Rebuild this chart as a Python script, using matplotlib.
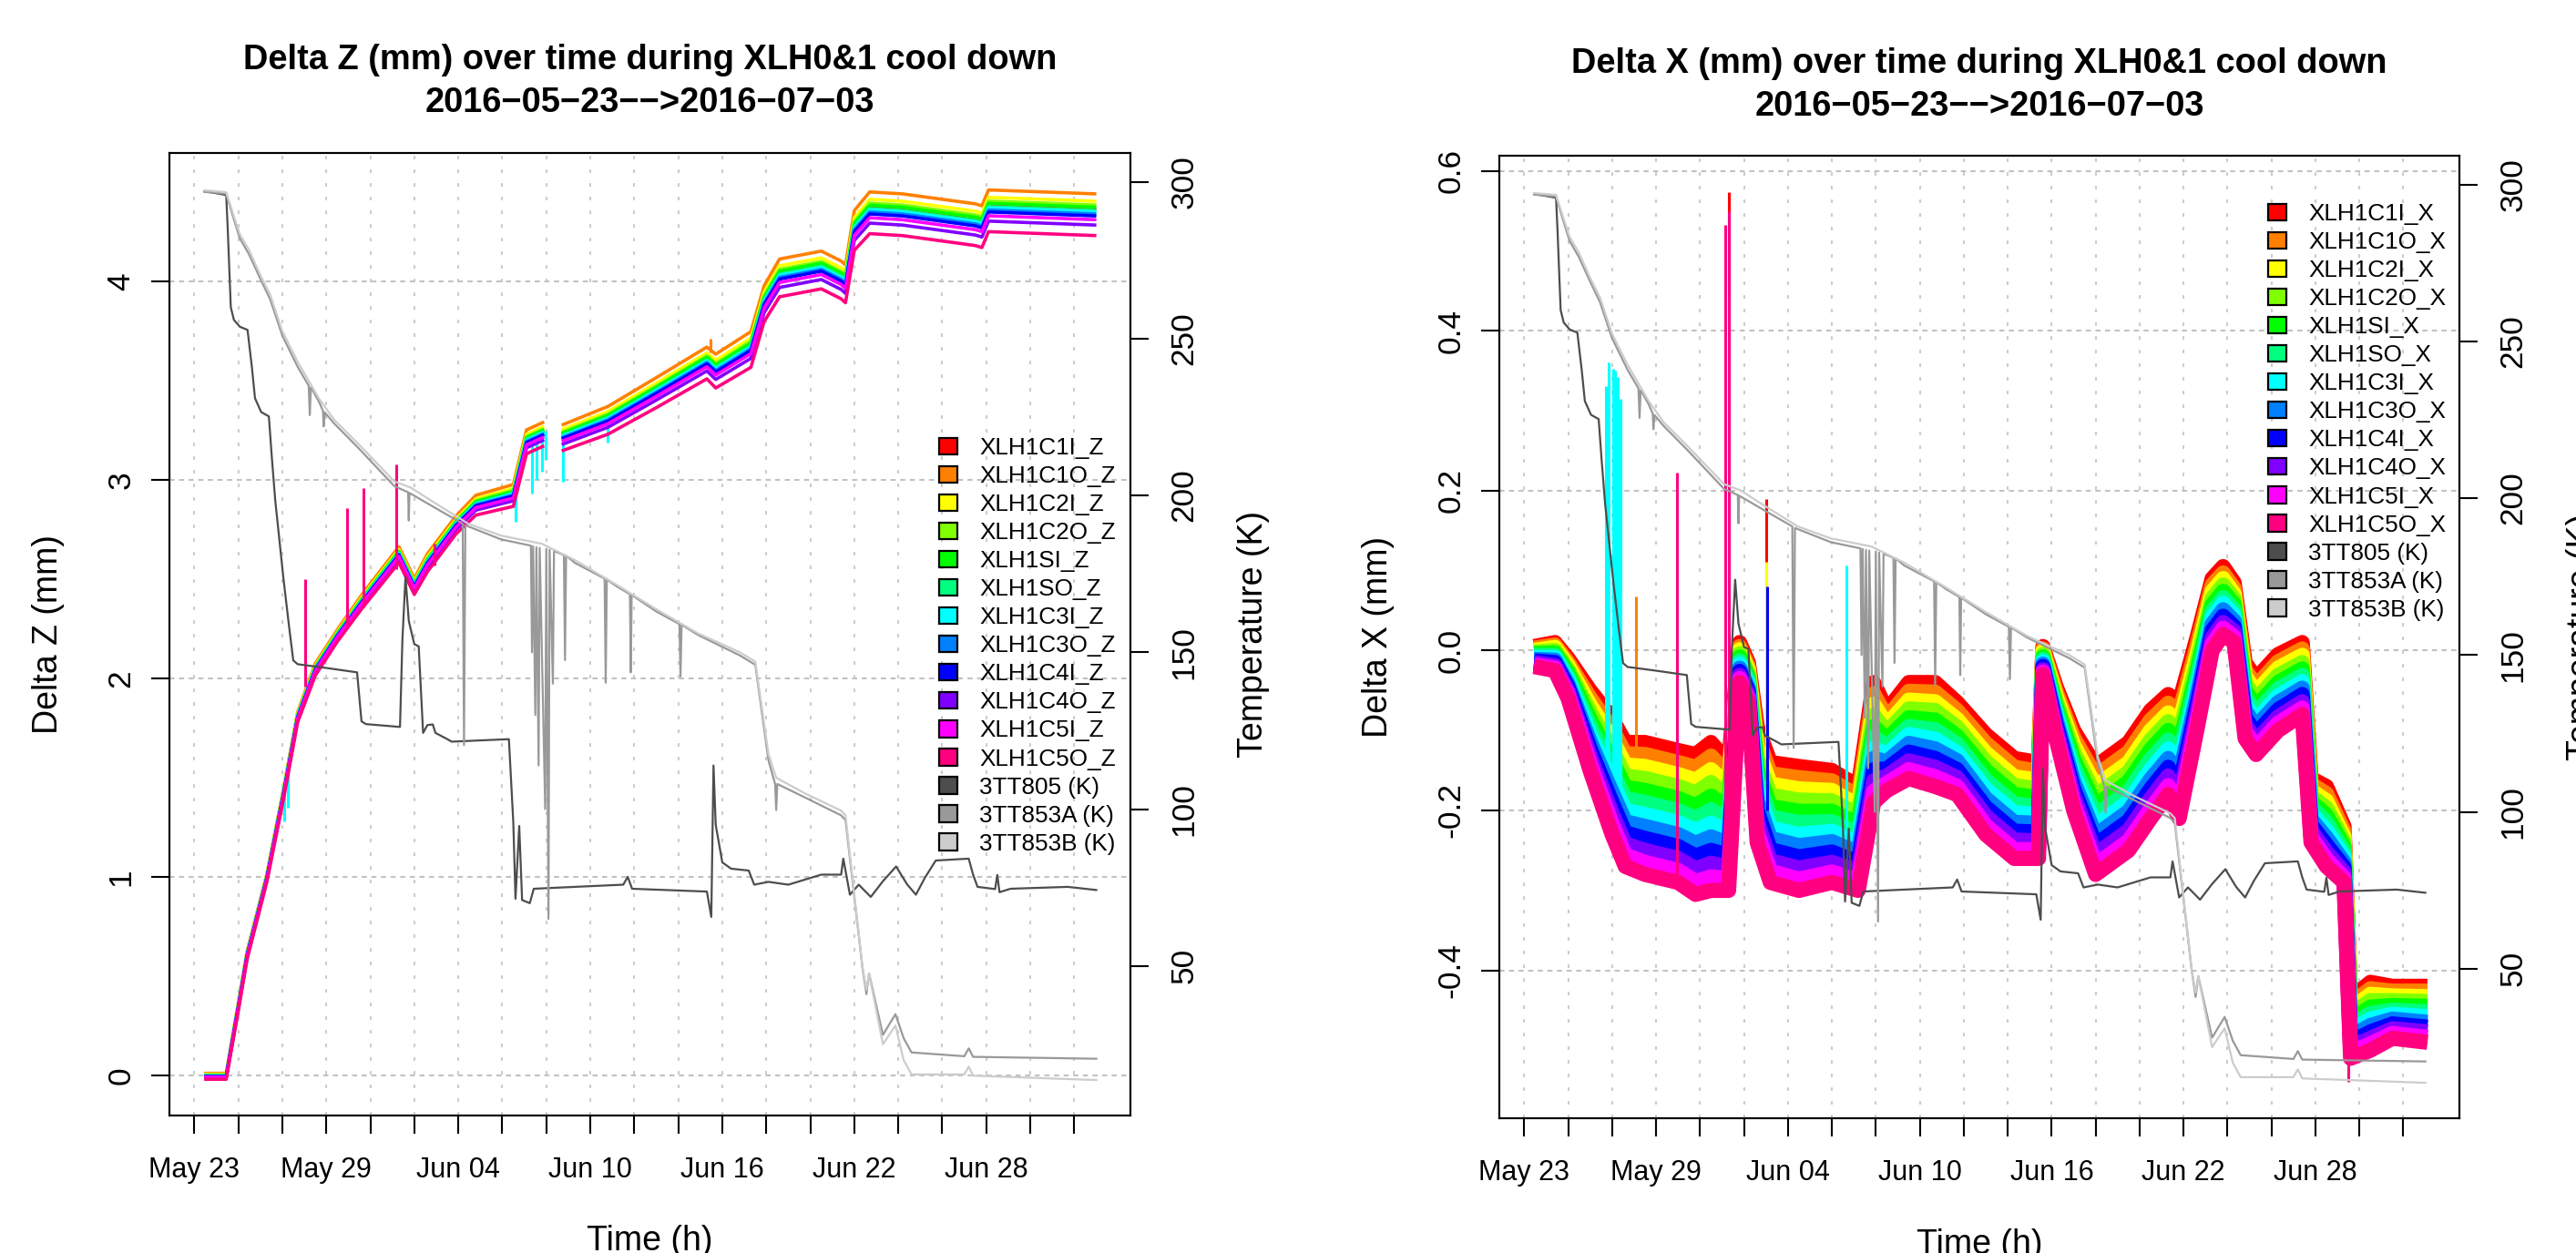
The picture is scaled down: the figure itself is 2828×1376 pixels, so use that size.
import matplotlib
matplotlib.use('Agg')
import matplotlib.pyplot as plt
from matplotlib.patches import Patch

plt.rcParams['font.family'] = ['Liberation Sans', 'DejaVu Sans']
plt.rcParams['lines.scale_dashes'] = False

nan = float('nan')

# time axis in days since 2016-05-23 00:00
tick_days = list(range(0, 41, 2))
label_days = [0, 6, 12, 18, 24, 30, 36]
label_text = ['May 23', 'May 29', 'Jun 04', 'Jun 10', 'Jun 16', 'Jun 22', 'Jun 28']

sensor_cols = ['#FF0000', '#FF8000', '#FFFF00', '#80FF00', '#00FF00', '#00FF80',
               '#00FFFF', '#0080FF', '#0000FF', '#8000FF', '#FF00FF', '#FF0080']
z_names = ['XLH1C1I_Z', 'XLH1C1O_Z', 'XLH1C2I_Z', 'XLH1C2O_Z', 'XLH1SI_Z', 'XLH1SO_Z',
           'XLH1C3I_Z', 'XLH1C3O_Z', 'XLH1C4I_Z', 'XLH1C4O_Z', 'XLH1C5I_Z', 'XLH1C5O_Z']
x_names = ['XLH1C1I_X', 'XLH1C1O_X', 'XLH1C2I_X', 'XLH1C2O_X', 'XLH1SI_X', 'XLH1SO_X',
           'XLH1C3I_X', 'XLH1C3O_X', 'XLH1C4I_X', 'XLH1C4O_X', 'XLH1C5I_X', 'XLH1C5O_X']
temp_names = ['3TT805 (K)', '3TT853A (K)', '3TT853B (K)']
temp_cols = ['#4D4D4D', '#999999', '#CCCCCC']

# ---- Delta Z (mm) ----
z_t = [0.45, 1.45, 2.0, 2.4, 3.3, 4.05, 4.7, 5.5, 6.5, 7.6, 9.3, 10.0, 10.6, 11.9, 12.8,
       14.5, 15.1, 15.9, 16.3, 16.7, 18.8, 21.0, 23.3, 23.7, 25.3, 25.9, 26.6, 28.5, 29.4,
       29.6, 30.0, 30.7, 32.2, 35.5, 35.8, 36.1, 41.0]
z_c1i = [.002, .002, .352, .612, 1.002, 1.423, 1.813, 2.054, 2.224, 2.394, 2.635, 2.475, 2.595, 2.785, 2.886,
         2.937, 3.207, 3.247, nan, 3.228, 3.318, 3.459, 3.610, 3.570, 3.681, 3.911, 4.041, 4.081, 4.031,
         4.011, 4.282, 4.373, 4.363, 4.313, 4.303, 4.383, 4.363]
z_c1o = [.013, .013, .367, .627, 1.017, 1.442, 1.832, 2.076, 2.246, 2.420, 2.664, 2.504, 2.629, 2.819, 2.923,
         2.977, 3.252, 3.292, nan, 3.276, 3.370, 3.515, 3.669, 3.633, 3.747, 3.977, 4.112, 4.152, 4.102,
         4.082, 4.356, 4.450, 4.440, 4.390, 4.380, 4.460, 4.440]
z_c2i = [.008, .008, .360, .620, 1.010, 1.433, 1.823, 2.065, 2.235, 2.408, 2.650, 2.490, 2.613, 2.803, 2.905,
         2.958, 3.230, 3.270, nan, 3.253, 3.345, 3.488, 3.640, 3.603, 3.715, 3.945, 4.078, 4.118, 4.068,
         4.048, 4.320, 4.413, 4.403, 4.353, 4.343, 4.423, 4.403]
z_c2o = [.005, .005, .356, .616, 1.006, 1.428, 1.818, 2.060, 2.230, 2.401, 2.643, 2.483, 2.604, 2.794, 2.896,
         2.948, 3.219, 3.259, nan, 3.241, 3.332, 3.474, 3.626, 3.587, 3.699, 3.929, 4.060, 4.100, 4.050,
         4.030, 4.302, 4.394, 4.384, 4.334, 4.324, 4.404, 4.384]
z_si = [.003, .003, .354, .614, 1.004, 1.426, 1.816, 2.057, 2.227, 2.398, 2.639, 2.479, 2.600, 2.790, 2.891,
        2.942, 3.213, 3.253, nan, 3.234, 3.325, 3.467, 3.618, 3.579, 3.690, 3.920, 4.051, 4.091, 4.041,
        4.021, 4.292, 4.383, 4.373, 4.323, 4.313, 4.393, 4.373]
z_so = [.001, .001, .351, .611, 1.001, 1.422, 1.812, 2.052, 2.222, 2.392, 2.632, 2.472, 2.593, 2.783, 2.883,
        2.933, 3.204, 3.244, nan, 3.224, 3.314, 3.455, 3.605, 3.565, 3.675, 3.905, 4.036, 4.076, 4.026,
        4.006, 4.276, 4.366, 4.356, 4.306, 4.296, 4.376, 4.356]
z_c3i = [0.0, 0.0, 0.35, 0.61, 1.00, 1.42, 1.81, 2.05, 2.22, 2.39, 2.63, 2.47, 2.59, 2.78, 2.88,
         2.93, 3.20, 3.24, nan, 3.22, 3.31, 3.45, 3.60, 3.56, 3.67, 3.90, 4.03, 4.07, 4.02,
         4.00, 4.27, 4.36, 4.35, 4.30, 4.29, 4.37, 4.35]
z_c3o = [-.002, -.002, .348, .608, .998, 1.417, 1.807, 2.047, 2.217, 2.386, 2.626, 2.466, 2.585, 2.775, 2.875,
         2.924, 3.194, 3.234, nan, 3.213, 3.303, 3.442, 3.592, 3.551, 3.661, 3.891, 4.020, 4.060, 4.010,
         3.990, 4.260, 4.349, 4.339, 4.289, 4.279, 4.359, 4.339]
z_c4i = [-.003, -.003, .346, .606, .996, 1.415, 1.805, 2.044, 2.214, 2.383, 2.622, 2.462, 2.581, 2.771, 2.870,
         2.919, 3.188, 3.228, nan, 3.207, 3.296, 3.435, 3.584, 3.543, 3.652, 3.882, 4.011, 4.051, 4.001,
         3.981, 4.250, 4.339, 4.329, 4.279, 4.269, 4.349, 4.329]
z_c4o = [-.010, -.010, .337, .597, .987, 1.404, 1.794, 2.031, 2.201, 2.368, 2.604, 2.444, 2.561, 2.751, 2.848,
         2.895, 3.162, 3.202, nan, 3.178, 3.265, 3.402, 3.549, 3.506, 3.612, 3.842, 3.969, 4.009, 3.959,
         3.939, 4.206, 4.293, 4.283, 4.233, 4.223, 4.303, 4.283]
z_c5i = [-.006, -.006, .342, .602, .992, 1.410, 1.800, 2.039, 2.209, 2.377, 2.615, 2.455, 2.573, 2.763, 2.861,
         2.909, 3.177, 3.217, nan, 3.195, 3.283, 3.421, 3.570, 3.528, 3.636, 3.866, 3.994, 4.034, 3.984,
         3.964, 4.232, 4.320, 4.310, 4.260, 4.250, 4.330, 4.310]
z_c5o = [-.017, -.017, .327, .587, .977, 1.391, 1.781, 2.016, 2.186, 2.350, 2.584, 2.424, 2.539, 2.729, 2.823,
         2.867, 3.132, 3.172, nan, 3.146, 3.230, 3.364, 3.509, 3.463, 3.567, 3.797, 3.922, 3.962, 3.912,
         3.892, 4.156, 4.240, 4.230, 4.180, 4.170, 4.250, 4.230]
z_series = [z_c1i, z_c1o, z_c2i, z_c2o, z_si, z_so, z_c3i, z_c3o, z_c4i, z_c4o, z_c5i, z_c5o]

# single-sample glitches: series index -> (time, low, high)
z_spike_orange = ([23.45], [3.64], [3.71])
z_spike_cyan = ([4.1, 4.25, 14.6, 15.35, 15.55, 15.8, 15.95, 16.75, 18.8],
                [1.28, 1.35, 2.79, 2.93, 3.00, 3.04, 3.10, 2.99, 3.19],
                [1.46, 1.56, 2.93, 3.20, 3.22, 3.24, 3.25, 3.22, 3.31])
z_spike_rose = ([5.05, 6.95, 7.7, 9.16, 10.9],
                [1.96, 2.26, 2.36, 2.55, 2.57],
                [2.50, 2.86, 2.96, 3.08, 2.68])

# ---- Delta X (mm) ----
x_t = [0.45, 1.4, 2.0, 3.0, 4.0, 4.6, 5.5, 7.0, 7.8, 8.5, 9.3, 9.8, 10.2, 10.6, 11.2, 12.5, 14.0,
       15.2, 15.9, 16.5, 17.5, 18.7, 19.7, 21.0, 22.3, 23.4, 23.6, 24.2, 25.0, 26.0, 27.5, 28.5,
       29.3, 29.8, 30.6, 31.3, 31.8, 32.3, 32.8, 33.3, 34.3, 35.4, 35.8, 36.5, 37.3, 37.6, 38.5,
       39.5, 41.1]
x_c1i = [.005, .010, -.010, -.050, -.085, -.115, -.115, -.125, -.130, -.115, -.140, .010, -.015, -.095, -.140, -.145, -.150,
         -.170, -.040, -.075, -.040, -.040, -.065, -.105, -.135, -.140, .005, -.045, -.100, -.145, -.115, -.075,
         -.055, -.065, .015, .090, .105, .085, -.015, -.035, -.005, .010, -.160, -.170, -.220, -.435, -.415,
         -.420, -.420]
x_c1o = [.003, .007, -.015, -.059, -.098, -.129, -.130, -.140, -.146, -.132, -.155, .005, -.020, -.108, -.154, -.159, -.163,
         -.182, -.054, -.084, -.051, -.052, -.075, -.116, -.146, -.151, .002, -.051, -.109, -.157, -.127, -.087,
         -.066, -.078, .005, .082, .097, .078, -.024, -.044, -.014, .002, -.167, -.179, -.226, -.442, -.423,
         -.426, -.426]
x_c2i = [.000, .004, -.019, -.068, -.111, -.143, -.145, -.155, -.162, -.149, -.169, .001, -.024, -.121, -.167, -.173, -.175,
         -.194, -.067, -.093, -.062, -.064, -.086, -.128, -.158, -.162, -.001, -.057, -.118, -.170, -.140, -.100,
         -.078, -.091, -.006, .074, .090, .071, -.032, -.052, -.022, -.006, -.175, -.188, -.233, -.449, -.430,
         -.432, -.433]
x_c2o = [-.002, .000, -.024, -.077, -.125, -.157, -.160, -.170, -.178, -.165, -.184, -.004, -.029, -.135, -.181, -.187, -.188,
         -.205, -.081, -.102, -.073, -.075, -.096, -.139, -.169, -.173, -.005, -.063, -.127, -.182, -.152, -.112,
         -.089, -.105, -.016, .065, .082, .065, -.041, -.061, -.031, -.015, -.182, -.197, -.239, -.455, -.438,
         -.438, -.439]
x_si = [-.004, -.003, -.028, -.086, -.138, -.171, -.175, -.185, -.194, -.182, -.198, -.008, -.033, -.148, -.195, -.201, -.201,
        -.217, -.095, -.111, -.084, -.087, -.107, -.150, -.180, -.184, -.008, -.069, -.136, -.194, -.164, -.124,
        -.100, -.118, -.027, .057, .074, .058, -.050, -.070, -.040, -.023, -.189, -.206, -.245, -.462, -.446,
        -.444, -.445]
x_so = [-.006, -.006, -.033, -.095, -.151, -.185, -.190, -.200, -.210, -.199, -.213, -.013, -.038, -.161, -.208, -.215, -.214,
        -.229, -.108, -.120, -.095, -.099, -.117, -.162, -.192, -.195, -.011, -.075, -.145, -.206, -.176, -.136,
        -.112, -.131, -.037, .049, .066, .051, -.058, -.078, -.048, -.031, -.196, -.215, -.252, -.469, -.454,
        -.450, -.452]
x_c3i = [-.009, -.009, -.037, -.105, -.164, -.200, -.205, -.215, -.225, -.216, -.227, -.017, -.042, -.174, -.222, -.230, -.226,
         -.241, -.122, -.130, -.105, -.111, -.128, -.173, -.203, -.205, -.014, -.080, -.155, -.219, -.189, -.149,
         -.123, -.144, -.048, .041, .059, .044, -.067, -.087, -.057, -.039, -.204, -.225, -.258, -.476, -.461,
         -.455, -.458]
x_c3o = [-.011, -.012, -.042, -.114, -.177, -.214, -.220, -.230, -.241, -.233, -.242, -.022, -.047, -.187, -.235, -.244, -.239,
         -.253, -.135, -.139, -.116, -.123, -.138, -.185, -.215, -.216, -.017, -.086, -.164, -.231, -.201, -.161,
         -.135, -.157, -.058, .033, .051, .037, -.075, -.095, -.065, -.047, -.211, -.234, -.265, -.483, -.469,
         -.461, -.465]
x_c4i = [-.013, -.015, -.046, -.123, -.190, -.228, -.235, -.245, -.257, -.250, -.256, -.026, -.051, -.200, -.249, -.258, -.252,
         -.265, -.149, -.148, -.127, -.135, -.149, -.196, -.226, -.227, -.020, -.092, -.173, -.243, -.213, -.173,
         -.146, -.170, -.069, .025, .043, .030, -.084, -.104, -.074, -.055, -.218, -.243, -.271, -.490, -.477,
         -.467, -.471]
x_c4o = [-.015, -.019, -.051, -.132, -.204, -.242, -.250, -.260, -.273, -.266, -.271, -.031, -.056, -.214, -.263, -.272, -.265,
         -.276, -.163, -.157, -.138, -.146, -.159, -.207, -.237, -.238, -.024, -.098, -.182, -.255, -.225, -.185,
         -.157, -.184, -.079, .016, .035, .024, -.093, -.113, -.083, -.064, -.225, -.252, -.277, -.496, -.485,
         -.473, -.477]
x_c5i = [-.018, -.022, -.055, -.141, -.217, -.256, -.265, -.275, -.289, -.283, -.285, -.035, -.060, -.227, -.276, -.286, -.277,
         -.288, -.176, -.166, -.149, -.158, -.170, -.219, -.249, -.249, -.027, -.104, -.191, -.268, -.238, -.198,
         -.169, -.197, -.090, .008, .028, .017, -.101, -.121, -.091, -.072, -.233, -.261, -.284, -.503, -.492,
         -.479, -.484]
x_c5o = [-.020, -.025, -.060, -.150, -.230, -.270, -.280, -.290, -.305, -.300, -.300, -.040, -.065, -.240, -.290, -.300, -.290,
         -.300, -.190, -.175, -.160, -.170, -.180, -.230, -.260, -.260, -.030, -.110, -.200, -.280, -.250, -.210,
         -.180, -.210, -.100, .000, .020, .010, -.110, -.130, -.100, -.080, -.240, -.270, -.290, -.510, -.500,
         -.485, -.490]
x_series = [x_c1i, x_c1o, x_c2i, x_c2o, x_si, x_so, x_c3i, x_c3o, x_c4i, x_c4o, x_c5i, x_c5o]

x_spike_red = ([9.32, 11.0], [0.45, -0.13], [0.574, 0.19])
x_spike_orange = ([5.08], [-0.13], [0.068])
x_spike_yellow = ([11.02], [-0.15], [0.111])
x_spike_cyan = ([3.72, 3.86, 4.03, 4.14, 4.24, 4.39, 14.64],
                [-0.20, -0.22, -0.24, -0.25, -0.26, -0.26, -0.22],
                [0.331, 0.361, 0.352, 0.350, 0.342, 0.315, 0.106])
x_spike_blue = ([11.04], [-0.20], [0.08])
x_spike_rose = ([6.95, 9.15, 9.3, 37.5], [-0.29, -0.30, -0.30, -0.54], [0.223, 0.532, 0.55, -0.29])

# ---- temperatures (K), shared by both panels ----
t805_t = [0.45, 1.45, 1.52, 1.66, 1.8, 2.07, 2.42, 2.62, 2.76, 3.04, 3.39, 3.52, 3.68, 4.05, 4.31,
          4.5, 4.7, 6.0, 7.4, 7.6, 7.8, 9.35, 9.46, 9.6, 9.75, 10.0, 10.2, 10.4, 10.6, 10.84,
          10.96, 11.5, 11.7, 14.3, 14.5, 14.6, 14.77, 14.9, 15.25, 15.43, 17.3, 19.5, 19.7, 19.9, 23.3,
          23.5, 23.6, 23.7, 24.0, 24.4, 25.2, 25.45, 26.1, 27.0, 28.5, 29.4, 29.5, 29.8, 30.2, 30.75,
          31.3, 31.9, 32.4, 32.8, 33.2, 33.7, 35.2, 35.4, 35.6, 36.4, 36.5, 36.6, 37.1, 39.7, 41.0]
t805_v = [297.0, 295.8, 285.0, 260.0, 256.0, 253.8, 252.8, 240.8, 231.0, 226.6, 225.2, 212.6, 198.4, 173.7, 158.1,
          147.4, 146.2, 145.0, 143.6, 128.0, 127.1, 126.2, 154.0, 174.0, 160.0, 152.6, 151.9, 124.3, 126.8, 127.0,
          124.3, 122.3, 121.5, 122.3, 95.8, 71.4, 94.6, 71.0, 70.0, 74.6, 75.2, 75.9, 78.4, 74.6, 73.7,
          65.6, 113.9, 95.0, 83.0, 81.0, 80.4, 75.9, 76.8, 75.9, 79.1, 79.1, 84.2, 72.7, 75.9, 72.0,
          77.0, 81.7, 76.0, 72.7, 78.0, 83.6, 84.2, 79.1, 75.2, 74.5, 79.0, 73.5, 74.6, 75.2, 74.2]
t853a_t = [0.45, 1.45, 1.8, 2.07, 2.48, 3.04, 3.45, 4.0, 4.7, 5.2, 5.25, 5.3, 5.66, 5.85, 5.88,
           5.93, 6.35, 7.45, 9.09, 9.72, 9.75, 9.78, 10.96, 12.2, 12.26, 12.32, 13.94, 15.3, 15.35, 15.4,
           15.5, 15.55, 15.65, 15.7, 15.95, 16.0, 16.1, 16.15, 16.3, 16.35, 16.8, 16.85, 16.9, 17.3, 18.65,
           18.7, 18.75, 19.2, 19.8, 19.84, 19.88, 21.0, 22.05, 22.1, 22.15, 22.9, 24.8, 25.5, 26.1, 26.4,
           26.45, 26.5, 27.76, 29.4, 29.6, 30.0, 30.37, 30.55, 30.67, 31.3, 31.87, 32.24, 32.6, 35.0, 35.2,
           35.4, 41.0]
t853a_v = [296.8, 296.2, 288.0, 282.0, 277.0, 268.5, 262.5, 251.0, 241.0, 235.0, 225.6, 234.5, 230.0, 227.0, 222.0,
           226.5, 223.0, 215.2, 203.0, 201.0, 192.0, 200.8, 196.0, 191.0, 120.4, 190.5, 186.0, 184.0, 150.0, 183.8,
           130.0, 183.5, 113.9, 183.3, 100.0, 183.0, 65.0, 182.7, 140.0, 182.3, 181.0, 147.5, 180.8, 178.5, 173.5,
           140.3, 173.2, 171.0, 168.5, 143.6, 168.3, 163.0, 159.0, 142.3, 158.8, 155.5, 149.0, 146.0, 115.5, 108.0,
           99.7, 108.0, 103.7, 98.0, 96.5, 72.0, 49.5, 41.0, 47.6, 28.0, 34.6, 27.0, 22.4, 21.2, 23.7,
           21.0, 20.4]
t853b_t = [0.45, 1.45, 1.8, 2.07, 2.48, 3.04, 3.45, 4.0, 4.7, 5.66, 6.35, 7.45, 9.09, 9.84, 10.96,
           12.45, 13.94, 15.8, 17.3, 19.2, 21.0, 22.9, 24.8, 25.5, 26.1, 26.45, 27.76, 29.4, 29.6, 30.0,
           30.37, 30.55, 30.67, 31.3, 31.87, 32.24, 32.6, 35.0, 35.2, 35.4, 41.0]
t853b_v = [297.3, 296.7, 289.0, 283.3, 278.4, 269.7, 264.0, 252.4, 242.6, 231.0, 224.2, 216.5, 204.5, 202.5, 197.5,
           191.0, 187.2, 184.6, 179.4, 171.5, 163.7, 156.0, 150.0, 147.0, 117.5, 110.0, 105.0, 99.5, 98.0, 72.7,
           49.5, 42.4, 47.6, 25.0, 31.0, 20.0, 15.4, 15.4, 17.9, 15.0, 13.6]
temps = [(t805_t, t805_v), (t853a_t, t853a_v), (t853b_t, t853b_v)]

W, H = 2828, 1376
fig = plt.figure(figsize=(W / 200, H / 200), dpi=200)


def fx(px):
    return px / W


def fy(py):
    return 1 - py / H


def panel(box, t, series, names, lw, spikes, ylim, yticks, ylabel, titles, title_y, xlab_y, leg_xy):
    left, top, right, bottom = box
    ax = fig.add_axes([fx(left), fy(bottom), (right - left) / W, (bottom - top) / H])
    ax.set_xlim(-1.13, 42.55)
    ax.set_ylim(*ylim)
    for i, (vals, col) in enumerate(zip(series, sensor_cols)):
        ax.plot(t, vals, color=col, lw=lw, solid_capstyle='butt', zorder=2)
        if i in spikes:
            st, lo, hi = spikes[i]
            ax.vlines(st, lo, hi, colors=col, lw=1.1, zorder=2)

    ax.set_xticks(tick_days)
    ax.set_xticklabels([label_text[label_days.index(d)] if d in label_days else '' for d in tick_days])
    ax.set_yticks(yticks)
    ax.set_yticklabels(['%g' % v if abs(v) >= 1 or v == 0 and len(yticks) < 6 else '%.1f' % v for v in yticks],
                       rotation=90, va='center', fontsize=12.7)
    ax.tick_params(axis='x', length=7.2, width=0.75, pad=9, labelsize=11)
    ax.tick_params(axis='y', length=7.2, width=0.75, pad=6)
    ax.grid(axis='x', color='#cccccc', lw=0.75, linestyle=(0, (1.4, 4.0)))
    ax.grid(axis='y', color='#c2c2c2', lw=0.75, linestyle=(0, (2.0, 1.8)))
    ax.set_axisbelow(True)
    for s in ax.spines.values():
        s.set_linewidth(0.75)

    ax2 = ax.twinx()
    ax2.set_ylim(2.3, 309.2)
    for (tt, vv), col in zip(temps, temp_cols):
        ax2.plot(tt, vv, color=col, lw=0.8)
    ax2.set_yticks(range(50, 301, 50))
    ax2.set_yticklabels([str(v) for v in range(50, 301, 50)], rotation=90, va='center', fontsize=12.7)
    ax2.tick_params(axis='y', length=7.2, width=0.75, pad=8)
    for s in ax2.spines.values():
        s.set_linewidth(0.75)

    handles = [Patch(facecolor=c, edgecolor='black', lw=0.8) for c in sensor_cols + temp_cols]
    ax2.legend(handles, names + temp_names, loc='upper left',
               bbox_to_anchor=(fx(leg_xy[0]), fy(leg_xy[1])), bbox_transform=fig.transFigure,
               frameon=False, fontsize=9.4, handlelength=0.77, handleheight=0.7,
               handletextpad=0.93, labelspacing=0.27, borderaxespad=0, borderpad=0)

    cx = fx((left + right) / 2)
    fig.text(cx, fy(title_y[0]), titles[0], ha='center', va='baseline', fontsize=13.7, fontweight='bold')
    fig.text(cx, fy(title_y[1]), titles[1], ha='center', va='baseline', fontsize=13.7, fontweight='bold')
    fig.text(cx, fy(xlab_y), 'Time (h)', ha='center', va='baseline', fontsize=13.5)
    ymid = fy((top + bottom) / 2)
    fig.text(fx(left - 133), ymid, ylabel, rotation=90, ha='center', va='center', fontsize=13.5)
    fig.text(fx(right + 135), ymid, 'Temperature (K)', rotation=90, ha='center', va='center', fontsize=13.5)
    return ax


panel((186, 168, 1241, 1225), z_t, z_series, z_names, 1.3,
      {1: z_spike_orange, 6: z_spike_cyan, 11: z_spike_rose},
      (-0.1995, 4.646), [0, 1, 2, 3, 4], 'Delta Z (mm)',
      ['Delta Z (mm) over time during XLH0&1 cool down', '2016\u221205\u221223\u2212\u2212>2016\u221207\u221203'],
      (76.5, 123), 1373, (1031, 480))

panel((1646, 171, 2700, 1228), x_t, x_series, x_names, 6.0,
      {0: x_spike_red, 1: x_spike_orange, 2: x_spike_yellow, 6: x_spike_cyan, 8: x_spike_blue,
       11: x_spike_rose},
      (-0.585, 0.619), [-0.4, -0.2, 0.0, 0.2, 0.4, 0.6], 'Delta X (mm)',
      ['Delta X (mm) over time during XLH0&1 cool down', '2016\u221205\u221223\u2212\u2212>2016\u221207\u221203'],
      (80, 127), 1377, (2490, 223))

fig.savefig('out.png', dpi=200)
